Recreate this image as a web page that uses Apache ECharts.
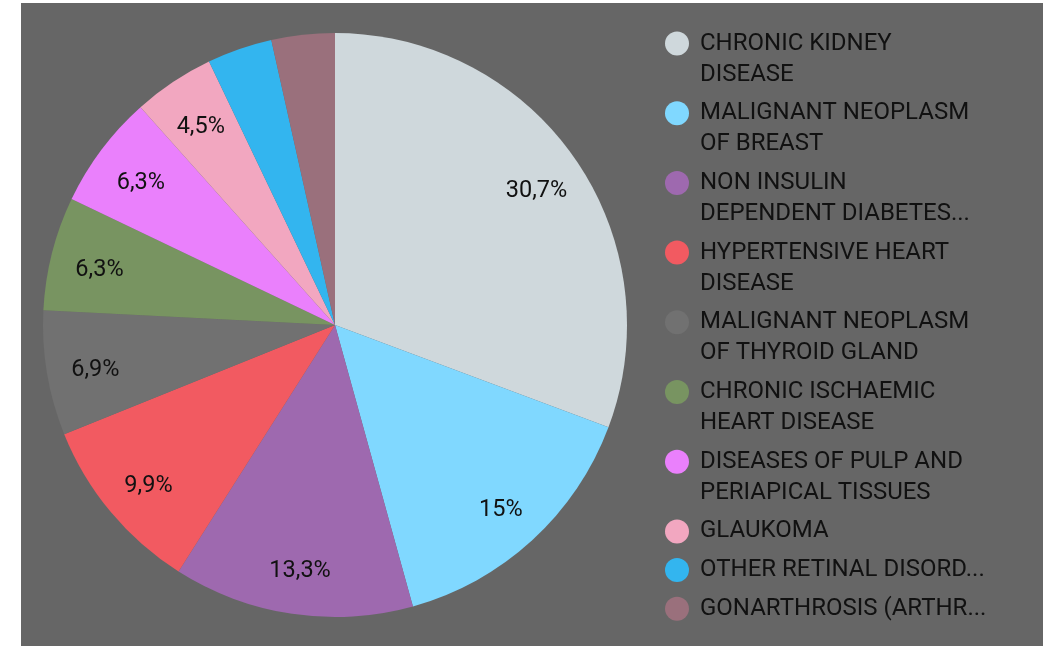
<!DOCTYPE html>
<html>
    <head>
        <meta charset="utf-8">
        <title>ECharts</title>
        <script src="https://cdn.jsdelivr.net/npm/echarts@6/dist/echarts.min.js"></script>
        <style>
            html, body { margin:0; padding:0; background:#fff; }
            #main { position:absolute; left:21px; top:3px; width:1022px; height:643px; }
        </style>
    </head>
    <body>
        <div id="main"></div>
        <script type="text/javascript">
            // categories and values (percent)
            var categories = [
                'CHRONIC KIDNEY DISEASE',
                'MALIGNANT NEOPLASM OF BREAST',
                'NON INSULIN DEPENDENT DIABETES MELLITUS',
                'HYPERTENSIVE HEART DISEASE',
                'MALIGNANT NEOPLASM OF THYROID GLAND',
                'CHRONIC ISCHAEMIC HEART DISEASE',
                'DISEASES OF PULP AND PERIAPICAL TISSUES',
                'GLAUKOMA',
                'OTHER RETINAL DISORDERS',
                'GONARTHROSIS (ARTHROSIS OF KNEE)'
            ];
            var values = [30.7, 15, 13.3, 9.9, 6.9, 6.3, 6.3, 4.5, 3.6, 3.5];
            var legendLabels = [
                'CHRONIC KIDNEY\nDISEASE',
                'MALIGNANT NEOPLASM\nOF BREAST',
                'NON INSULIN\nDEPENDENT DIABETES...',
                'HYPERTENSIVE HEART\nDISEASE',
                'MALIGNANT NEOPLASM\nOF THYROID GLAND',
                'CHRONIC ISCHAEMIC\nHEART DISEASE',
                'DISEASES OF PULP AND\nPERIAPICAL TISSUES',
                'GLAUKOMA',
                'OTHER RETINAL DISORD...',
                'GONARTHROSIS (ARTHR...'
            ];
            var colors = ['#CFD8DC', '#80D8FF', '#9E69AF', '#F25A61', '#717171',
                          '#789461', '#EA80FC', '#F2A7C0', '#33B5EF', '#9A707C'];

            // legend icons: circle sitting on the first text line
            var iconTwoLines = 'path://M0,0M30,62M0,15.5A12,12,0,1,1,24,15.5A12,12,0,1,1,0,15.5Z';
            var iconOneLine = 'path://M0,15.5M30,46.5M0,31A12,12,0,1,1,24,31A12,12,0,1,1,0,31Z';

            var pieData = [], labelData = [], legendData = [];
            for (var i = 0; i < categories.length; i++) {
                pieData.push({ name: categories[i], value: values[i], itemStyle: { color: colors[i] } });
                labelData.push({ name: categories[i], value: values[i], label: { show: values[i] >= 4 } });
                legendData.push({
                    name: categories[i],
                    icon: legendLabels[i].indexOf('\n') >= 0 ? iconTwoLines : iconOneLine
                });
            }

            var myChart = echarts.init(document.getElementById('main'));
            var option = {
                backgroundColor: '#666666',
                animation: false,
                legend: {
                    orient: 'vertical',
                    left: 644,
                    top: 25,
                    padding: 0,
                    itemWidth: 30,
                    itemHeight: 62,
                    itemGap: 7.7,
                    data: legendData,
                    itemStyle: { borderWidth: 0 },
                    formatter: function (name) {
                        return legendLabels[categories.indexOf(name)];
                    },
                    textStyle: {
                        color: '#111',
                        fontFamily: 'Roboto',
                        fontSize: 24,
                        lineHeight: 31
                    }
                },
                series: [{
                    type: 'pie',
                    center: [314, 322],
                    radius: 292,
                    startAngle: 90,
                    silent: true,
                    itemStyle: { borderWidth: 0 },
                    label: { show: false },
                    labelLine: { show: false },
                    data: pieData
                }, {
                    // transparent copy, only used to place the percent labels further out
                    type: 'pie',
                    center: [315, 327],
                    radius: 482,
                    startAngle: 90,
                    silent: true,
                    z: 3,
                    itemStyle: { color: 'rgba(0,0,0,0)', borderWidth: 0 },
                    label: {
                        position: 'inside',
                        color: '#111',
                        fontFamily: 'Roboto',
                        fontSize: 23.5,
                        formatter: function (p) {
                            return String(p.value).replace('.', ',') + '%';
                        }
                    },
                    labelLine: { show: false },
                    data: labelData
                }]
            };
            myChart.setOption(option);
        </script>
    </body>
</html>
